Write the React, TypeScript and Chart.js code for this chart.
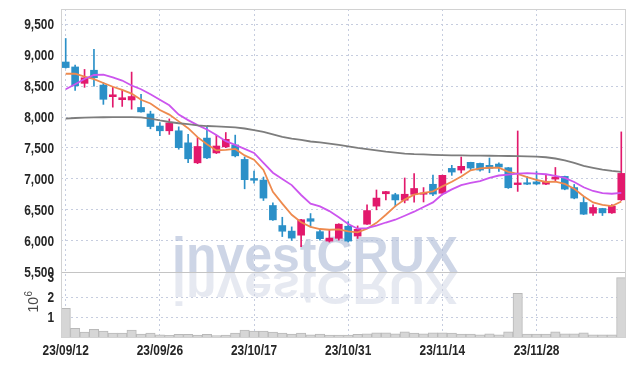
import React, { useEffect, useRef } from "react";
import { Chart, registerables } from "chart.js";

Chart.register(...registerables);

// ---- data ----
const dates = [
  "23/09/12", "23/09/13", "23/09/14", "23/09/15", "23/09/18", "23/09/19", "23/09/20", "23/09/21", "23/09/22", "23/09/25",
  "23/09/26", "23/09/27", "23/10/04", "23/10/05", "23/10/06", "23/10/10", "23/10/11", "23/10/12", "23/10/13", "23/10/16",
  "23/10/17", "23/10/18", "23/10/19", "23/10/20", "23/10/23", "23/10/24", "23/10/25", "23/10/26", "23/10/27", "23/10/30",
  "23/10/31", "23/11/01", "23/11/02", "23/11/03", "23/11/06", "23/11/07", "23/11/08", "23/11/09", "23/11/10", "23/11/13",
  "23/11/14", "23/11/15", "23/11/16", "23/11/17", "23/11/20", "23/11/21", "23/11/22", "23/11/23", "23/11/24", "23/11/27",
  "23/11/28", "23/11/29", "23/11/30", "23/12/01", "23/12/04", "23/12/05", "23/12/06", "23/12/07", "23/12/08", "23/12/11",
];

const opens = [
  8890, 8810, 8545, 8757, 8517, 8330, 8281, 8276, 8155, 8050,
  7855, 7778, 7778, 7583, 7260, 7660, 7420, 7518, 7549, 7315,
  7006, 6981, 6570, 6246, 6156, 6090, 6357, 6147, 5995, 6040,
  6235, 6076, 6268, 6560, 6760, 6745, 6655, 6750, 6752, 6913,
  6768, 7170, 7143, 7268, 7251, 7219, 7240, 7181, 6908, 6938,
  6952, 6915, 6997, 7041, 6860, 6619, 6446, 6522, 6451, 6662,
];
const highs = [
  9270, 8840, 8770, 9095, 8556, 8485, 8440, 8727, 8367, 8095,
  7912, 7970, 7842, 7720, 7668, 7850, 7705, 7750, 7708, 7355,
  7126, 7030, 6614, 6380, 6224, 6345, 6440, 6185, 6168, 6275,
  6310, 6240, 6580, 6821, 6800, 6768, 7015, 7085, 6860, 7060,
  7062, 7220, 7354, 7270, 7255, 7338, 7260, 7185, 7775, 7036,
  7120, 7075, 7185, 7045, 6910, 6705, 6581, 6525, 6586, 7760,
];
const lows = [
  8790, 8430, 8480, 8500, 8205, 8160, 8172, 8127, 8078, 7810,
  7700, 7720, 7480, 7262, 7246, 7328, 7410, 7505, 7356, 6840,
  6932, 6651, 6327, 6068, 6005, 5905, 6223, 6010, 5978, 6010,
  5980, 6038, 6265, 6500, 6660, 6550, 6612, 6622, 6627, 6728,
  6765, 7057, 7095, 7138, 7127, 7100, 7122, 6846, 6798, 6905,
  6905, 6905, 6965, 6824, 6678, 6424, 6408, 6408, 6440, 6651,
];
const closes = [
  8800, 8505, 8635, 8636, 8287, 8360, 8312, 8332, 8084, 7847,
  7778, 7905, 7505, 7325, 7524, 7340, 7532, 7640, 7373, 6988,
  6978, 6690, 6338, 6154, 6043, 6340, 6315, 6034, 6043, 6268,
  5995, 6185, 6488, 6690, 6795, 6660, 6752, 6845, 6772, 6755,
  7058, 7111, 7203, 7176, 7143, 7170, 7192, 6857, 6935, 6915,
  6918, 6947, 7030, 6835, 6690, 6430, 6538, 6451, 6559, 7089,
];
const volumes = [
  1430000, 430000, 240000, 380000, 290000, 190000, 190000, 340000, 140000, 190000,
  110000, 80000, 130000, 130000, 90000, 130000, 70000, 90000, 200000, 340000,
  300000, 300000, 250000, 200000, 150000, 200000, 110000, 150000, 100000, 100000,
  100000, 130000, 160000, 210000, 210000, 160000, 260000, 200000, 160000, 210000,
  210000, 200000, 150000, 150000, 110000, 160000, 110000, 260000, 2180000, 150000,
  150000, 150000, 260000, 160000, 160000, 210000, 110000, 110000, 110000, 2970000,
];
const maShort = [
  8700, 8700, 8655, 8612, 8550, 8490, 8440, 8380, 8280, 8220,
  8115, 8040, 7930, 7820, 7675, 7560, 7460, 7470, 7485, 7380,
  7310, 7144, 6790, 6600, 6420, 6300, 6225, 6190, 6178, 6185,
  6150, 6135, 6195, 6290, 6420, 6560, 6665, 6745, 6775, 6800,
  6880, 6955, 7040, 7140, 7170, 7180, 7180, 7115, 7080, 7030,
  6985, 6950, 6955, 6920, 6840, 6720, 6620, 6580, 6560, 6635,
];
const maMid = [
  8450, 8530, 8615, 8680, 8685, 8640, 8590, 8510, 8450, 8370,
  8280, 8190, 8040, 7950, 7870, 7800, 7710, 7610, 7550, 7485,
  7420, 7260, 7100, 7000, 6900, 6740, 6600, 6555, 6480, 6380,
  6270, 6195, 6205, 6245, 6295, 6340, 6405, 6470, 6545, 6620,
  6750, 6830, 6900, 6935, 6965, 7015, 7055, 7070, 7085, 7095,
  7085, 7075, 7050, 7015, 6950, 6865, 6805, 6770, 6760, 6775,
];
const maLong = [
  7975, 7985, 7992, 7996, 7997, 7999, 8000, 8000, 7995, 7975,
  7945, 7920, 7900, 7885, 7866, 7855, 7848, 7840, 7832, 7815,
  7790, 7760, 7720, 7680, 7650, 7630, 7605, 7590, 7570, 7550,
  7525, 7500, 7480, 7460, 7440, 7425, 7410, 7400, 7395, 7390,
  7385, 7381, 7379, 7377, 7375, 7374, 7372, 7370, 7368, 7365,
  7360, 7350, 7330, 7300, 7260, 7210, 7180, 7150, 7130, 7115,
];
const priceTicks = [5500, 6000, 6500, 7000, 7500, 8000, 8500, 9000, 9500];
const volumeTicks = [1000000, 2000000, 3000000];
const volumeGridTicks = [1000000, 2000000];
const dateTickLabels = ["23/09/12", "23/09/26", "23/10/17", "23/10/31", "23/11/14", "23/11/28"];
const priceMin = 4444;
const priceMax = 9747;
const volumeMax = 16400000;
const panelFloor = 5500;
const watermarkText = "investCRUX";
const volumeUnitBase = "10";
const volumeUnitExp = "6";

// ---- styles ----
const UP = "#e2196c";
const DOWN = "#2b90c8";
const GRID = "#c6cddf";
const LABEL_COLOR = "#262626";
const LABEL_FONT = "bold 14.5px 'Liberation Sans', Arial, sans-serif";
const LABEL_SX = 0.82;

function condensedText(ctx: any, text: string, x: number, y: number, align: string, baseline: string) {
  ctx.save();
  ctx.translate(x, y);
  ctx.scale(LABEL_SX, 1);
  ctx.font = LABEL_FONT;
  ctx.fillStyle = LABEL_COLOR;
  ctx.textAlign = align;
  ctx.textBaseline = baseline;
  ctx.fillText(text, 0, 0);
  ctx.restore();
}

const upDown = closes.map((c, i) => (c >= opens[i] ? UP : DOWN));

const decorPlugin = {
  id: "decor",
  beforeDatasetsDraw(chart: any) {
    const { ctx, chartArea, scales } = chart;
    // volume panel grid lines
    ctx.save();
    ctx.strokeStyle = GRID;
    ctx.lineWidth = 1;
    ctx.setLineDash([2, 3]);
    volumeGridTicks.forEach((v) => {
      const y = Math.round(scales.yv.getPixelForValue(v)) + 0.5;
      ctx.beginPath();
      ctx.moveTo(chartArea.left, y);
      ctx.lineTo(chartArea.right, y);
      ctx.stroke();
    });
    ctx.restore();

    // watermark
    const base = scales.y.getPixelForValue(panelFloor);
    const x = chartArea.left + 111;
    ctx.save();
    ctx.font = "bold 50px 'Liberation Sans', Arial, sans-serif";
    ctx.textBaseline = "alphabetic";
    ctx.textAlign = "left";
    ctx.fillStyle = "rgba(175,187,214,0.62)";
    ctx.fillText(watermarkText, x, base);
    ctx.translate(0, base);
    ctx.scale(1, -0.92);
    ctx.fillStyle = "rgba(200,207,225,0.45)";
    ctx.fillText(watermarkText, x, 0);
    ctx.restore();
  },
  afterDraw(chart: any) {
    const { ctx, chartArea, scales } = chart;
    const sep = Math.round(scales.y.getPixelForValue(panelFloor)) + 0.5;
    ctx.save();
    ctx.strokeStyle = "#c4c4c4";
    ctx.lineWidth = 1;
    ctx.beginPath();
    ctx.moveTo(chartArea.left, sep);
    ctx.lineTo(chartArea.right, sep);
    ctx.stroke();
    ctx.strokeStyle = "#d2d2d2";
    ctx.strokeRect(
      Math.round(chartArea.left) + 0.5,
      Math.round(chartArea.top) + 0.5,
      Math.round(chartArea.right - chartArea.left) - 1,
      Math.round(chartArea.bottom - chartArea.top)
    );
    ctx.restore();

    // price axis labels
    const labelRight = chartArea.left - 7;
    scales.y.ticks.forEach((t: any) => {
      condensedText(ctx, Number(t.value).toLocaleString("en-US"), labelRight, scales.y.getPixelForValue(t.value) + 1, "right", "middle");
    });
    // volume axis labels
    volumeTicks.forEach((v) => {
      condensedText(ctx, String(v / 1000000), labelRight, scales.yv.getPixelForValue(v) + 1, "right", "middle");
    });
    // date labels
    scales.x.ticks.forEach((t: any, i: number) => {
      const px = scales.x.getPixelForTick(i);
      condensedText(ctx, dates[t.value], px, chartArea.bottom + 7, "center", "top");
    });

    // volume unit title (10^6), rotated
    const vy = 302;
    ctx.save();
    ctx.translate(33, vy);
    ctx.rotate(-Math.PI / 2);
    ctx.fillStyle = "#4a4a4a";
    ctx.textBaseline = "middle";
    ctx.textAlign = "left";
    ctx.font = "14px 'Liberation Sans', Arial, sans-serif";
    const wBase = ctx.measureText(volumeUnitBase).width;
    ctx.font = "10px 'Liberation Sans', Arial, sans-serif";
    const wExp = ctx.measureText(volumeUnitExp).width;
    const start = -(wBase + wExp) / 2;
    ctx.font = "14px 'Liberation Sans', Arial, sans-serif";
    ctx.fillText(volumeUnitBase, start, 1);
    ctx.font = "10px 'Liberation Sans', Arial, sans-serif";
    ctx.fillText(volumeUnitExp, start + wBase + 0.5, -4);
    ctx.restore();
  },
};

export default function App() {
  const ref = useRef<HTMLCanvasElement>(null);
  useEffect(() => {
    document.body.style.margin = "0";
    document.body.style.overflow = "hidden";
    const canvas = ref.current;
    if (!canvas) return;
    const chart = new Chart(canvas, {
      type: "bar",
      data: {
        labels: dates,
        datasets: [
          {
            type: "line",
            data: maLong,
            yAxisID: "y",
            borderColor: "#7d7d7d",
            borderWidth: 1.8,
            pointRadius: 0,
            tension: 0,
            order: 1,
          },
          {
            type: "line",
            data: maMid,
            yAxisID: "y",
            borderColor: "#cc55ee",
            borderWidth: 1.8,
            pointRadius: 0,
            tension: 0,
            order: 1,
          },
          {
            type: "line",
            data: maShort,
            yAxisID: "y",
            borderColor: "#ee8a4e",
            borderWidth: 1.8,
            pointRadius: 0,
            tension: 0,
            order: 1,
          },
          {
            type: "bar",
            data: opens.map((o, i) => [o, closes[i]]),
            yAxisID: "y",
            backgroundColor: upDown,
            borderWidth: 0,
            barThickness: 7,
            minBarLength: 1,
            grouped: false,
            order: 2,
          },
          {
            type: "bar",
            data: lows.map((l, i) => [l, highs[i]]),
            yAxisID: "y",
            backgroundColor: upDown,
            borderWidth: 0,
            barThickness: 1,
            grouped: false,
            order: 3,
          },
          {
            type: "bar",
            data: volumes,
            yAxisID: "yv",
            backgroundColor: "#d6d6d6",
            borderColor: "#b9b9b9",
            borderWidth: 1,
            barPercentage: 1,
            categoryPercentage: 1,
            grouped: false,
            order: 4,
          },
        ],
      } as any,
      options: {
        responsive: false,
        animation: false,
        events: [],
        layout: { padding: { top: 9, right: 8, left: 0, bottom: 0 } },
        plugins: { legend: { display: false }, tooltip: { enabled: false } },
        scales: {
          x: {
            type: "category",
            offset: true,
            afterFit: (s: any) => {
              s.height = 29;
            },
            afterBuildTicks: (s: any) => {
              s.ticks = s.ticks.filter((t: any) => dateTickLabels.includes(dates[t.value]));
            },
            grid: { offset: false, color: GRID, drawTicks: false },
            border: { display: false, dash: [2, 3] },
            ticks: { display: false, autoSkip: false, maxRotation: 0 },
          },
          y: {
            type: "linear",
            position: "left",
            min: priceMin,
            max: priceMax,
            afterFit: (s: any) => {
              s.width = 61;
            },
            afterBuildTicks: (s: any) => {
              s.ticks = priceTicks.map((v) => ({ value: v }));
            },
            grid: {
              color: (c: any) => (c.tick && c.tick.value === panelFloor ? "rgba(0,0,0,0)" : GRID),
              drawTicks: false,
            },
            border: { display: false, dash: [2, 3] },
            ticks: { display: false },
          },
          yv: {
            type: "linear",
            display: false,
            min: 0,
            max: volumeMax,
          },
        },
      } as any,
      plugins: [decorPlugin],
    });
    return () => chart.destroy();
  }, []);
  return (
    <div style={{ width: 634, height: 366 }}>
      <canvas ref={ref} width={634} height={366} style={{ display: "block" }} />
    </div>
  );
}
